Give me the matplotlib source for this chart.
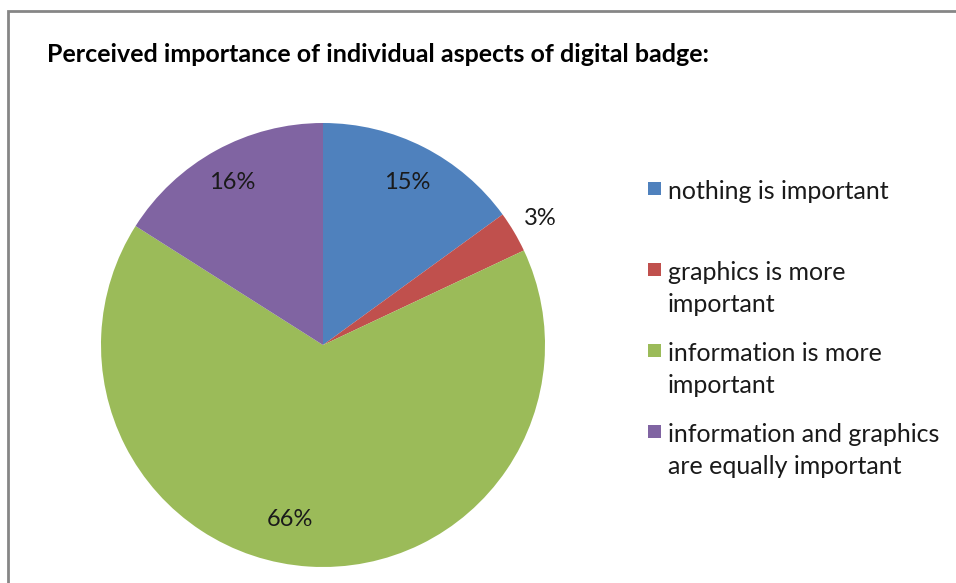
import matplotlib
matplotlib.use('Agg')
import matplotlib.pyplot as plt
from matplotlib.patches import Rectangle

plt.rcParams['font.family'] = ['Lato', 'DejaVu Sans']

labels = ['nothing is important', 'graphics is more\nimportant',
          'information is more\nimportant', 'information and graphics\nare equally important']
shares = [15, 3, 66, 16]
colors = ['#4F81BD', '#C0504D', '#9BBB59', '#8064A2']
# label spots in pie units (Excel "best fit" placement)
label_xy = [(0.378, 0.730), (0.977, 0.572), (-0.149, -0.788), (-0.41, 0.73)]

fig = plt.figure(figsize=(9.56, 5.83), dpi=100)

# chart frame (cut off on the right and bottom like the screenshot)
fig.patches.append(Rectangle((7.5 / 956, -0.1), 1.2, 1 - 11 / 583 + 0.1,
                             transform=fig.transFigure, fill=False,
                             edgecolor='#868686', linewidth=2))

fig.text(47 / 956, 1 - 55 / 583, 'Perceived importance of individual aspects of digital badge:',
         fontsize=18, fontweight='bold', va='center', ha='left')

ax = fig.add_axes([101 / 956, 16 / 583, 444 / 956, 444 / 583])
wedges, texts, autotexts = ax.pie(shares, colors=colors, startangle=90, counterclock=False,
                                  autopct='%d%%', radius=1,
                                  textprops={'fontsize': 17, 'color': '#1a1a1a'})
for t, (x, y) in zip(autotexts, label_xy):
    t.set_position((x, y))
    t.set_ha('center')
    t.set_va('center')
ax.set_xlim(-1, 1)
ax.set_ylim(-1, 1)
ax.set_aspect('equal')
ax.axis('off')

# legend, Excel style: evenly pitched entries, marker on the first line
leg_top = 190
pitch = 81
for i, (lab, c) in enumerate(zip(labels, colors)):
    yc = leg_top + i * pitch
    fig.patches.append(Rectangle((648 / 956, 1 - (yc + 5) / 583), 13 / 956, 13 / 583,
                                 transform=fig.transFigure, facecolor=c, edgecolor='none'))
    fig.text(668 / 956, 1 - (yc - 10) / 583, lab, fontsize=18, va='top', ha='left',
             linespacing=1.45, color='#1a1a1a')

fig.savefig('out.png', dpi=100)
